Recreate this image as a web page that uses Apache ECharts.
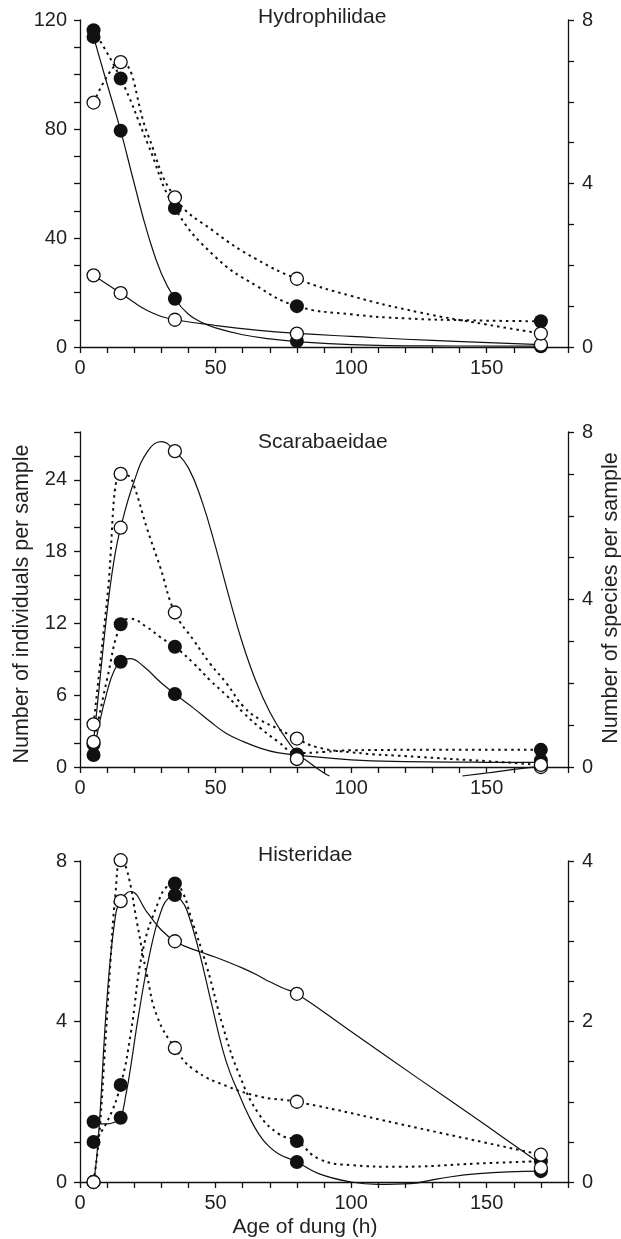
<!DOCTYPE html>
<html>
<head>
<meta charset="utf-8">
<title>Beetle families in ageing dung</title>
<script src="https://cdn.jsdelivr.net/npm/echarts@6/dist/echarts.min.js"></script>
<style>
  html, body { margin: 0; padding: 0; background: #fff; }
  #chart { width: 621px; height: 1239px; }
</style>
</head>
<body>
<div id="chart"></div>
<script>
// sampling ages (h)
var ages = [5, 15, 35, 80, 170];

// Hydrophilidae: individuals (left axis) and species (right axis)
var hydIndFilled = [113.8, 79.4, 17.7, 2.2, 0.3];
var hydIndOpen = [26.3, 19.8, 10.0, 4.9, 0.85];
var hydSppFilled = [7.75, 6.57, 3.40, 1.00, 0.63];
var hydSppOpen = [5.98, 6.97, 3.66, 1.67, 0.33];
// fitted curves, [age, value]
var hydIndFilledFit = [[5, 113.8], [10, 96.5], [15, 79.4], [20, 60], [25, 41.5], [30, 27], [35, 17.7], [40, 12], [45, 9], [50, 7], [60, 4.5], [70, 3], [80, 2], [100, 0.9], [130, 0.4], [170, 0.3]];
var hydIndOpenFit = [[5, 26.3], [10, 23], [15, 19.8], [20, 16.3], [25, 13.3], [30, 11.2], [35, 10], [50, 7.9], [65, 6.2], [80, 5], [100, 3.9], [130, 2.4], [170, 0.9]];
var hydSppFilledFit = [[5, 7.75], [15, 6.57], [25, 4.97], [35, 3.4], [50, 2.2], [65, 1.5], [80, 1.0], [100, 0.8], [120, 0.7], [145, 0.65], [170, 0.63]];
var hydSppOpenFit = [[5, 5.98], [15, 6.97], [25, 5.2], [35, 3.66], [50, 2.8], [65, 2.15], [80, 1.67], [100, 1.25], [125, 0.85], [150, 0.55], [170, 0.33]];

// Scarabaeidae
var scaIndFilled = [1.0, 8.8, 6.1, 1.0, 0.55];
var scaIndOpen = [2.1, 20.0, 26.4, 0.67, 0];
var scaSppFilled = [0.54, 3.41, 2.87, 0.30, 0.41];
var scaSppOpen = [1.02, 7.0, 3.69, 0.68, 0.05];
var scaIndFilledFit = [[5, 1], [7, 3.5], [10, 6.3], [12.5, 8], [15, 8.8], [18.5, 9.05], [23.5, 8.4], [29.6, 7.1], [35, 6.1], [42, 4.9], [48, 3.8], [54, 2.8], [60.5, 2.1], [66.7, 1.56], [72.8, 1.2], [80, 1.0], [100, 0.6], [120, 0.45], [145, 0.4], [170, 0.38]];
var scaIndOpenFit = [[5, 2.1], [7, 6.5], [10, 13], [12.5, 17.2], [15, 20], [20, 23.9], [25, 26.4], [30, 27.2], [35, 26.4], [40, 25.0], [45, 22.2], [50, 18.4], [55, 14.2], [60, 10.3], [65, 7.1], [70, 4.6], [75, 2.7], [80, 1.2], [85, 0.3], [90, -0.5], [92, -0.75], [95, '-'], [141, -0.75], [150, -0.5], [160, -0.2], [170, 0.05]];
var scaSppFilledFit = [[5, 0.54], [10, 2.1], [15, 3.41], [18.5, 3.54], [24.7, 3.34], [29.6, 3.1], [35, 2.87], [42, 2.47], [48, 2.07], [54, 1.71], [60.5, 1.28], [66.7, 0.92], [72.8, 0.62], [80, 0.33], [90, 0.36], [100, 0.4], [130, 0.41], [170, 0.41]];
var scaSppOpenFit = [[5, 1.02], [10, 4.0], [15, 7.0], [18, 6.95], [20, 6.7], [24.7, 5.7], [29.6, 4.77], [35, 3.69], [42, 3.02], [48, 2.47], [54, 2.0], [60.5, 1.43], [66.7, 1.12], [72.8, 0.92], [80, 0.68], [87, 0.48], [100, 0.35], [125, 0.24], [150, 0.14], [170, 0.05]];

// Histeridae
var hisIndFilled = [1.5, 1.6, 7.15, 0.5, 0.27];
var hisIndOpen = [0, 7.0, 6.0, 4.69, 0.35];
var hisSppFilled = [0.5, 1.21, 3.72, 0.51, 0.26];
var hisSppOpen = [0, 4.01, 1.67, 1.0, 0.34];
var hisIndFilledFit = [[5, 1.5], [7, 1.45], [10, 1.45], [13, 1.5], [15, 1.6], [17, 2.2], [18.7, 2.87], [21.7, 4.2], [26, 5.78], [30.5, 6.86], [33, 7.1], [35, 7.15], [37, 7.05], [39.4, 6.78], [43.8, 5.78], [48.2, 4.53], [52.7, 3.28], [55.5, 2.7], [58.6, 2.2], [62, 1.68], [65.9, 1.2], [69.5, 0.9], [73.3, 0.7], [80, 0.5], [88, 0.21], [100, 0], [110, -0.06], [122, -0.04], [132, 0.08], [147, 0.21], [170, 0.27]];
var hisIndOpenFit = [[5, 0], [6, 0.5], [7.2, 1.5], [10, 4.6], [13, 6.6], [15, 7.0], [18.6, 7.24], [25, 6.7], [30, 6.28], [35, 6.0], [40, 5.84], [45, 5.72], [50, 5.6], [55, 5.47], [60, 5.33], [65, 5.17], [70, 4.99], [75, 4.83], [80, 4.69], [100, 3.75], [125, 2.57], [150, 1.4], [170, 0.45]];
var hisSppFilledFit = [[5, 0.5], [10, 0.75], [15, 1.21], [18.7, 1.85], [23.2, 2.89], [29, 3.5], [32, 3.68], [35, 3.72], [38, 3.6], [40.9, 3.3], [46.8, 2.68], [52.7, 1.94], [58.6, 1.35], [65.9, 0.85], [73.3, 0.6], [80, 0.51], [88, 0.29], [100, 0.21], [117.5, 0.19], [147, 0.23], [170, 0.26]];
var hisSppOpenFit = [[5, 0], [7, 0.55], [9, 1.55], [11.2, 2.73], [13, 3.56], [15, 4.01], [17.3, 3.89], [21.1, 3.22], [24.8, 2.56], [28.5, 2.06], [35, 1.67], [42, 1.4], [54.5, 1.19], [67, 1.06], [80, 1.0], [125, 0.67], [170, 0.34]];

var INK = '#231f20';
var FONT = '"Liberation Sans", Arial, sans-serif';

var panels = [
  { title: 'Hydrophilidae', titleY: 7, top: 20, height: 327,
    left: { max: 120, step: 10, every: 40 }, right: { max: 8, step: 1, every: 4 },
    indFilled: hydIndFilled, indOpen: hydIndOpen, sppFilled: hydSppFilled, sppOpen: hydSppOpen,
    fits: [hydIndFilledFit, hydIndOpenFit, hydSppFilledFit, hydSppOpenFit] },
  { title: 'Scarabaeidae', titleY: 432, top: 432, height: 335,
    left: { max: 28, step: 2, every: 6 }, right: { max: 8, step: 1, every: 4 },
    indFilled: scaIndFilled, indOpen: scaIndOpen, sppFilled: scaSppFilled, sppOpen: scaSppOpen,
    fits: [scaIndFilledFit, scaIndOpenFit, scaSppFilledFit, scaSppOpenFit] },
  { title: 'Histeridae', titleY: 845, top: 861, height: 321,
    left: { max: 8, step: 1, every: 4 }, right: { max: 4, step: 0.5, every: 2 },
    indFilled: hisIndFilled, indOpen: hisIndOpen, sppFilled: hisSppFilled, sppOpen: hisSppOpen,
    fits: [hisIndFilledFit, hisIndOpenFit, hisSppFilledFit, hisSppOpenFit] }
];

function pairs(xs, ys) {
  return xs.map(function (x, i) { return [x, ys[i]]; });
}

function everyFormatter(every) {
  return function (v) {
    return Math.abs(v / every - Math.round(v / every)) < 1e-6 ? String(v) : '';
  };
}

var axisLine = { show: true, onZero: false, lineStyle: { color: '#111', width: 1.3 } };
var axisTick = { show: true, length: 6, lineStyle: { color: '#111', width: 1.3 } };

function yAxis(g, pos, cfg) {
  return {
    gridIndex: g, type: 'value', position: pos, min: 0, max: cfg.max, interval: cfg.step,
    axisLine: axisLine, axisTick: axisTick, splitLine: { show: false },
    axisLabel: { formatter: everyFormatter(cfg.every), fontSize: 20, fontFamily: FONT, color: INK, margin: pos === 'left' ? 13 : 14 }
  };
}

function fitLine(g, axis, data, dotted) {
  return {
    type: 'line', xAxisIndex: g, yAxisIndex: axis, data: data,
    smooth: 0.45, symbol: 'none', showSymbol: false, clip: false, silent: true, z: 2,
    lineStyle: dotted ? { color: '#111', width: 2, type: [2.5, 4], opacity: 1 } : { color: '#111', width: 1.2, opacity: 1 }
  };
}

function points(g, axis, ys, open) {
  return {
    type: 'scatter', xAxisIndex: g, yAxisIndex: axis, data: pairs(ages, ys),
    symbol: 'circle', symbolSize: open ? 13 : 14, clip: false, silent: true, z: open ? 4 : 3,
    itemStyle: open
      ? { color: '#fff', borderColor: '#111', borderWidth: 1.3, opacity: 1 }
      : { color: '#111', borderWidth: 0, opacity: 1 }
  };
}

var grids = [], xAxes = [], yAxes = [], series = [], texts = [];

panels.forEach(function (p, g) {
  grids.push({ left: 80, right: 53, top: p.top, height: p.height });
  xAxes.push({
    gridIndex: g, type: 'value', min: 0, max: 180, interval: 10,
    axisLine: axisLine, axisTick: axisTick, splitLine: { show: false },
    axisLabel: { formatter: everyFormatter(50), fontSize: 20, fontFamily: FONT, color: INK, margin: 11 }
  });
  yAxes.push(yAxis(g, 'left', p.left));
  yAxes.push(yAxis(g, 'right', p.right));
  var L = 2 * g, R = 2 * g + 1;
  series.push(fitLine(g, L, p.fits[0], false));
  series.push(fitLine(g, L, p.fits[1], false));
  series.push(fitLine(g, R, p.fits[2], true));
  series.push(fitLine(g, R, p.fits[3], true));
  series.push(points(g, L, p.indFilled, false));
  series.push(points(g, R, p.sppFilled, false));
  series.push(points(g, L, p.indOpen, true));
  series.push(points(g, R, p.sppOpen, true));
  texts.push({
    type: 'text', x: 258, y: p.titleY, silent: true,
    style: { text: p.title, fontSize: 21, fontFamily: FONT, fill: INK, align: 'left', verticalAlign: 'top' }
  });
});

texts.push({
  type: 'text', x: 22, y: 604, rotation: Math.PI / 2, silent: true,
  style: { text: 'Number of individuals per sample', fontSize: 21.5, fontFamily: FONT, fill: INK, align: 'center', verticalAlign: 'middle' }
});
texts.push({
  type: 'text', x: 611, y: 598, rotation: Math.PI / 2, silent: true,
  style: { text: 'Number of species per sample', fontSize: 21.5, fontFamily: FONT, fill: INK, align: 'center', verticalAlign: 'middle' }
});
texts.push({
  type: 'text', x: 305, y: 1227, silent: true,
  style: { text: 'Age of dung (h)', fontSize: 21, fontFamily: FONT, fill: INK, align: 'center', verticalAlign: 'middle' }
});

var chart = echarts.init(document.getElementById('chart'), null, { renderer: 'canvas' });
chart.setOption({
  animation: false,
  backgroundColor: '#fff',
  grid: grids,
  xAxis: xAxes,
  yAxis: yAxes,
  series: series,
  graphic: texts
});
</script>
</body>
</html>
